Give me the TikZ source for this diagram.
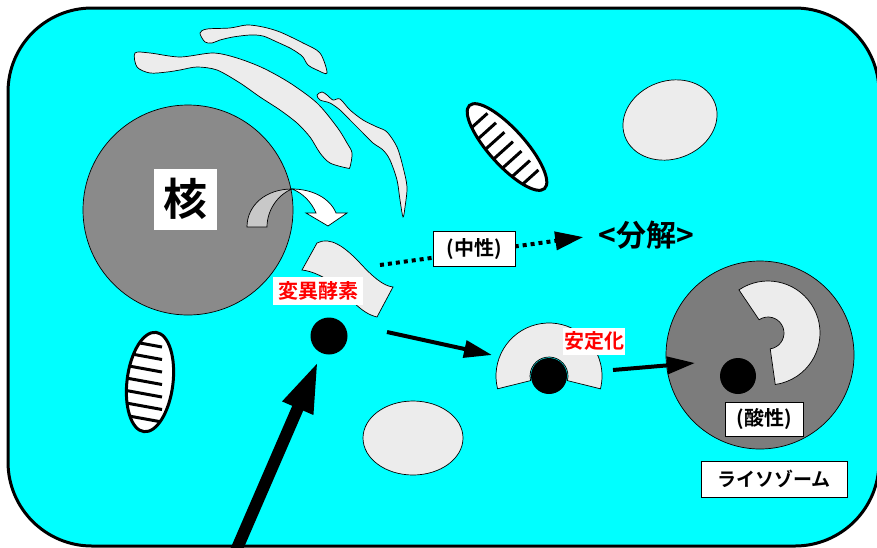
\documentclass[tikz,border=0pt]{standalone}
\usepackage{fontspec}
\newfontfamily\jp{Noto Sans CJK JP}[BoldFont={Noto Sans CJK JP Bold}]
\usetikzlibrary{arrows.meta, positioning, calc}

\definecolor{cytoplasm}{HTML}{00FFFF}
\definecolor{nucleusgray}{HTML}{8A8A8A}
\definecolor{lysogray}{HTML}{7C7C7C}
\definecolor{membrane}{HTML}{ECECEC}
\definecolor{backside}{HTML}{C8C8C8}

\begin{document}
\begin{tikzpicture}[x=1pt, y=-1pt,
    blob/.style={draw, line width=0.7pt, fill=membrane},
    tagbox/.style={draw, line width=0.8pt, fill=white, inner sep=0pt,
      font=\jp\bfseries\fontsize{20pt}{24pt}\selectfont},
    redtag/.style={fill=white, text=red, inner sep=0pt,
      font=\jp\bfseries\fontsize{20pt}{24pt}\selectfont},
    molecule/.style={circle, fill=black, inner sep=0pt, minimum size=37pt},
    flow/.style={line width=4pt, -{Triangle[length=28pt, width=17pt]}},
    stripe/.style={line width=3pt},
  ]
    \useasboundingbox (0,0) rectangle (877,547);

    % cell body
    \draw[line width=3pt, fill=cytoplasm, rounded corners=84pt] (8,8) rectangle (879,546);

    % endoplasmic reticulum
    \draw[blob] plot[smooth cycle, tension=0.5] coordinates {
      (200,33) (207,29) (230,28) (247,25) (263,27) (280,32) (303,43) (320,53) (327,73)
      (317,70) (308,65) (303,57) (298,53) (290,48) (277,42) (263,36) (250,35) (233,37)
      (220,40) (212,43) (205,42)};
    \draw[blob] plot[smooth cycle, tension=0.5] coordinates {
      (135,53) (150,53) (180,57) (213,53) (237,58) (263,68) (290,83) (317,103) (337,127)
      (347,143) (352,153) (350,167) (347,168) (330,163) (320,153) (310,137) (297,123)
      (280,110) (260,97) (240,83) (217,70) (197,67) (180,70) (167,72) (150,73) (137,67)};
    \draw[blob] plot[smooth cycle, tension=0.5] coordinates {
      (317,95) (322,92) (327,95) (333,100) (340,99) (350,110) (363,120) (377,127)
      (387,132) (397,147) (403,167) (407,187) (405,207) (403,217) (400,200) (397,180)
      (390,160) (383,150) (373,143) (363,133) (350,120) (340,110) (330,103) (320,100)};

    % mitochondria
    \begin{scope}[shift={(507,147)}, rotate=-48]
      \begin{scope}
        \clip (0,0) ellipse [x radius=56pt, y radius=18pt];
        \fill[white] (-60,-30) rectangle (60,30);
        \foreach \k in {-3,...,3}
          \draw[stripe] (12.7*\k,25) -- (12.7*\k,-8);
      \end{scope}
      \draw[line width=3pt] (0,0) ellipse [x radius=56pt, y radius=18pt];
    \end{scope}
    \begin{scope}
      \clip[rotate around={83:(150,382)}] (150,382) ellipse [x radius=50pt, y radius=23pt];
      \fill[white] (90,320) rectangle (210,440);
      \foreach \yy in {343,355.5,...,419}
        \draw[stripe] (118,\yy-4) -- (162,\yy+4);
    \end{scope}
    \draw[line width=3pt, rotate around={83:(150,382)}] (150,382) ellipse [x radius=50pt, y radius=23pt];

    % vesicles
    \draw[blob, rotate around={20:(670,120)}] (670,120) ellipse [x radius=48pt, y radius=39pt];
    \draw[blob] (413,438) ellipse [x radius=50pt, y radius=37pt];

    % nucleus
    \draw[fill=nucleusgray, line width=0.7pt] (188,210) circle (105pt);
    \node[fill=white, inner sep=0pt, minimum width=63pt, minimum height=61pt,
      font=\jp\bfseries\fontsize{44pt}{48pt}\selectfont] (kaku) at (185,199) {核};

    % export arrow out of the nucleus
    \draw[fill=backside, line width=0.7pt] (247,227) .. controls (247,205) and (266,189) .. (292,189)
      .. controls (279,194) and (267,209) .. (267,227) -- cycle;
    \draw[fill=white, line width=0.7pt] (292,189) .. controls (312,189) and (330,198) .. (336,213)
      -- (347,213) -- (328,226) -- (306,213) -- (316,213)
      .. controls (312,203) and (303,193) .. (292,189) -- cycle;

    % mutant enzyme
    \draw[blob] (302,270) -- (317,243) .. controls (330,236) and (345,247) .. (360,263)
      .. controls (372,276) and (383,286) .. (393,287) -- (377,317)
      .. controls (360,313) and (350,297) .. (335,285)
      .. controls (325,277) and (312,271) .. (302,270) -- cycle;
    \node[redtag, minimum width=90pt, minimum height=28pt] (henni) at (318,291) {変異酵素};
    \node[molecule] (mutant) at (329,336) {};

    % stabilised complex
    \coordinate (fan) at (549,376);
    \draw[blob] (fan) ++(194:53pt) arc[start angle=194, end angle=-14, radius=53pt]
      -- ($(fan)+(-14:19pt)$) arc[start angle=-14, end angle=194, radius=19pt] -- cycle;
    \node[molecule, minimum size=36pt] (bound) at (fan) {};
    \node[redtag, minimum width=62pt, minimum height=27pt] (antei) at (594,341) {安定化};

    % lysosome
    \draw[fill=lysogray, line width=0.7pt] (760,355) circle (94pt);
    \coordinate (cut) at (768,333);
    \draw[blob] (cut) ++(124:52pt) arc[start angle=124, end angle=-82, radius=52pt]
      -- ($(cut)+(-82:16pt)$) arc[start angle=-82, end angle=124, radius=16pt] -- cycle;
    \node[molecule, minimum size=36pt] (inside) at (738,376) {};
    \node[tagbox, minimum width=78pt, minimum height=34pt] (acid) at (764,419) {(酸性)};
    \node[tagbox, minimum width=146pt, minimum height=36pt,
      font=\jp\bfseries\fontsize{19pt}{24pt}\selectfont] (lyso) at (774,479) {ライソゾーム};

    % pathways
    \coordinate (inlet) at (232,560);
    \draw[line width=12pt, -{Triangle[length=52pt, width=30pt]}, shorten >=8pt] (inlet) -- (mutant);
    \coordinate (a2s) at (387,332);
    \coordinate (a2e) at (492,355);
    \draw[flow] (a2s) -- (a2e);
    \coordinate (a3s) at (613,370);
    \coordinate (a3e) at (695,363);
    \draw[flow] (a3s) -- (a3e);

    % breakdown in neutral medium
    \node[inner sep=0pt, font=\jp\bfseries\fontsize{30pt}{34pt}\selectfont] (bunkai) at (646,235) {<分解>};
    \coordinate (dots) at (380,265);
    \draw[line width=4pt, dash pattern=on 4pt off 4pt, -{Triangle[length=28pt, width=18pt]},
      shorten >=15pt] (dots) -- (bunkai.west);
    \node[tagbox, minimum width=82pt, minimum height=35pt] (neutral) at (474,249) {(中性)};
\end{tikzpicture}
\end{document}
